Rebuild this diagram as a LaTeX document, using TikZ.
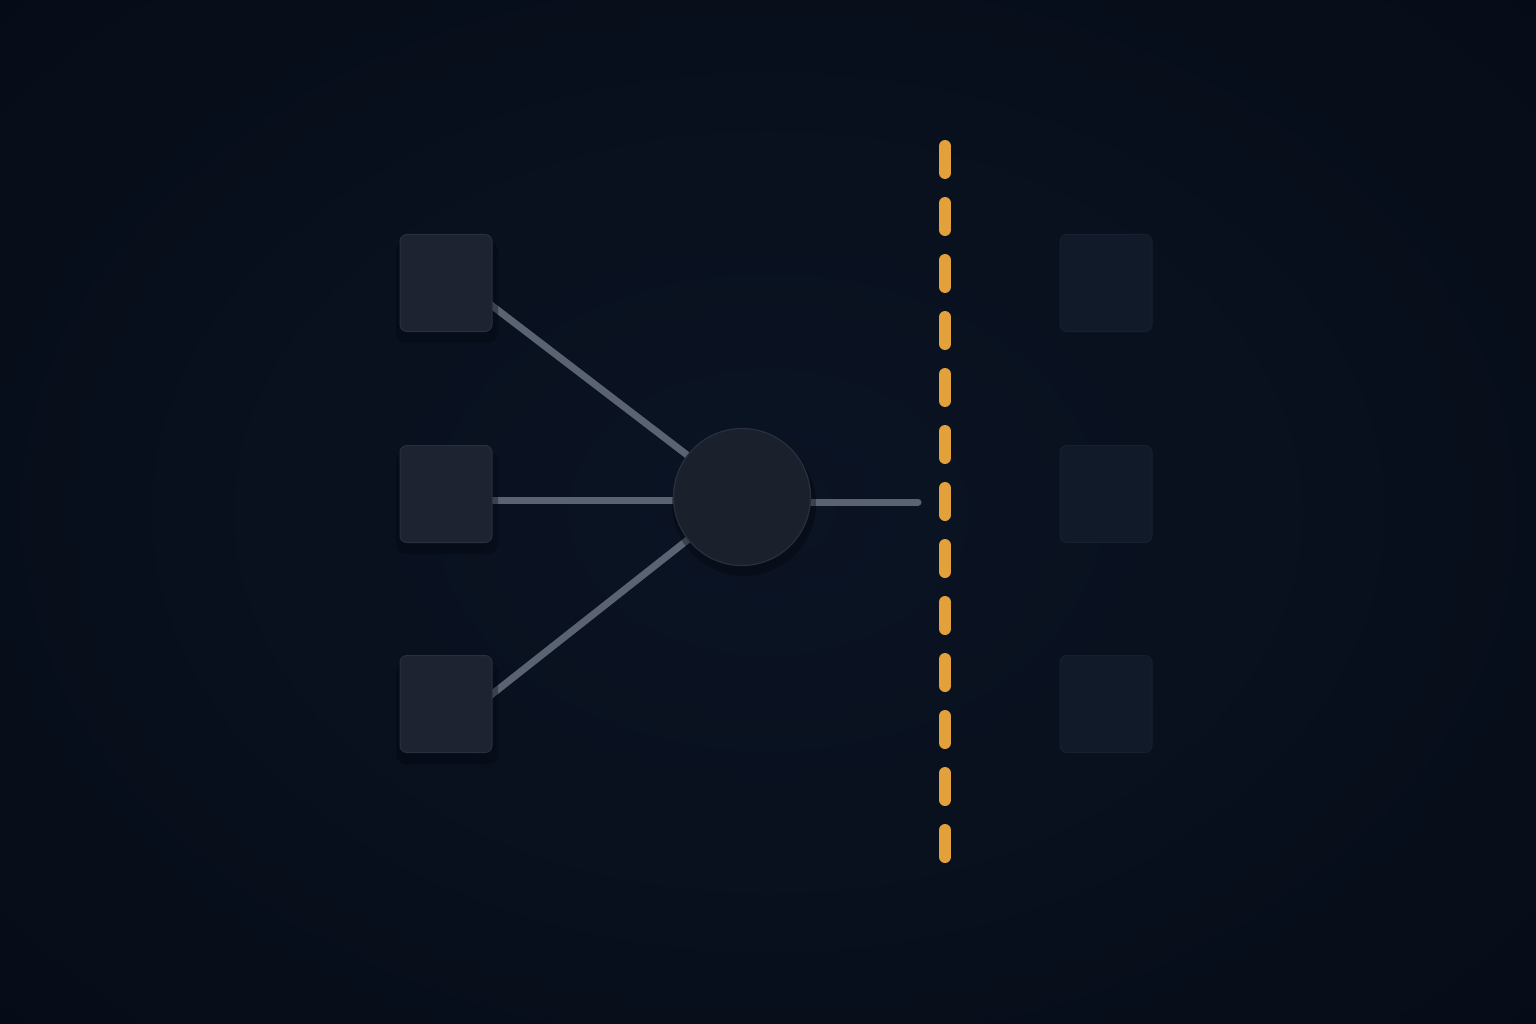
\documentclass[tikz,border=0pt]{standalone}
\usetikzlibrary{calc}
\pgfdeclarelayer{bg}
\pgfdeclarelayer{lines}
\pgfsetlayers{bg,lines,main}
\definecolor{bgmid}{HTML}{0B1424}
\definecolor{bgedge}{HTML}{060C17}
\definecolor{boxfill}{HTML}{1D2330}
\definecolor{boxrim}{HTML}{283040}
\definecolor{hubfill}{HTML}{1B212C}
\definecolor{ghostfill}{HTML}{111A29}
\definecolor{ghostrim}{HTML}{162031}
\definecolor{wire}{HTML}{596372}
\definecolor{gold}{HTML}{E2A13B}
\definecolor{shadowc}{HTML}{02050B}
\tikzset{
  sqbox/.style={draw=boxrim, line width=1pt, fill=boxfill, rounded corners=7pt,
    minimum width=92pt, minimum height=97pt, inner sep=0pt},
  ghostbox/.style={draw=ghostrim, line width=1pt, fill=ghostfill, rounded corners=7pt,
    minimum width=92pt, minimum height=97pt, inner sep=0pt},
  hub/.style={circle, draw=boxrim, line width=1.2pt, fill=hubfill, minimum size=137pt, inner sep=0pt},
  wireline/.style={draw=wire, line width=7pt, line cap=round},
  goldline/.style={draw=gold, line width=12pt, line cap=round, dash pattern=on 27pt off 30pt},
  shadowbox/.style={fill=shadowc, opacity=0.35, rounded corners=10pt}
}
\begin{document}
\begin{tikzpicture}[x=1pt,y=-1pt]
\useasboundingbox (0,0) rectangle (1536,1024);
\begin{pgfonlayer}{bg}
  \shade[inner color=bgmid, outer color=bgedge] (-300,-250) rectangle (1836,1274);
\end{pgfonlayer}
% shadows
\foreach \y in {283,494,704}{
  \fill[shadowbox] (396,{\y-42}) rectangle (498,{\y+60});
}
\fill[shadowc, opacity=0.35] (744,504) circle (72);
% nodes
\node[sqbox] (s1) at (446,283) {};
\node[sqbox] (s2) at (446,494) {};
\node[sqbox] (s3) at (446,704) {};
\node[hub] (c) at (742,497) {};
\node[ghostbox] (g1) at (1106,283) {};
\node[ghostbox] (g2) at (1106,494) {};
\node[ghostbox] (g3) at (1106,704) {};
\coordinate (wend) at (918,502);
\coordinate (dtop) at (945,146);
\coordinate (dbot) at (945,857);
\begin{pgfonlayer}{lines}
  \draw[wireline] ($(s1.east)+(-4,20)$) -- (c.center);
  \draw[wireline] ($(s2.east)+(-4,6)$) -- ($(c.center)+(0,3)$);
  \draw[wireline] ($(s3.east)+(-4,-7)$) -- (c.center);
  \draw[wireline] ($(c.center)+(0,5)$) -- (wend);
\end{pgfonlayer}
\draw[goldline] (dtop) -- (dbot);
\end{tikzpicture}
\end{document}
